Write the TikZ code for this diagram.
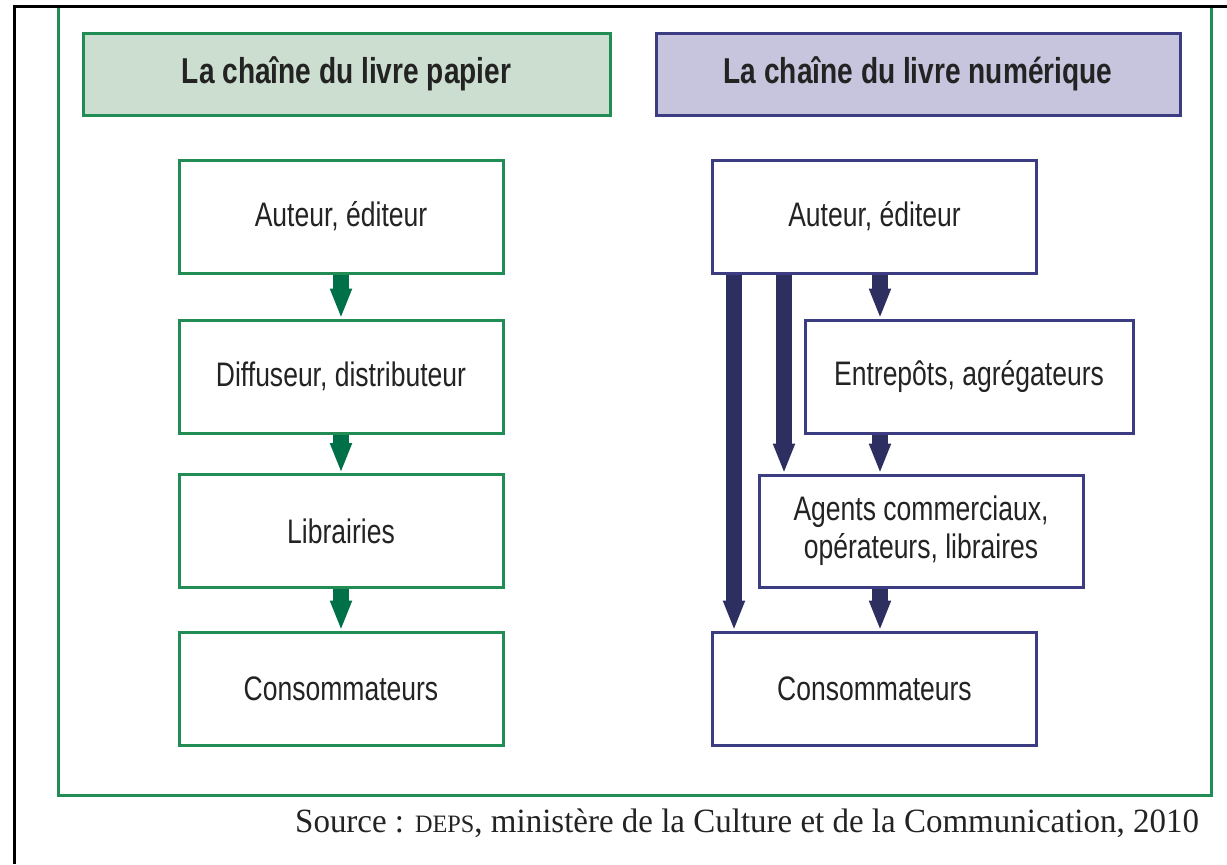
\documentclass[tikz,border=0pt]{standalone}
\usepackage{fontspec}
\setmainfont[FakeStretch=0.78]{Liberation Sans}
\newfontfamily\titlefont[FakeStretch=0.78]{Liberation Sans}
\newfontfamily\srcfont[FakeStretch=0.97]{Liberation Serif}
\usetikzlibrary{arrows.meta}

\definecolor{vert}{RGB}{34,140,85}
\definecolor{vertfond}{RGB}{204,222,208}
\definecolor{vertfleche}{RGB}{0,112,72}
\definecolor{bleu}{RGB}{60,60,130}
\definecolor{bleufond}{RGB}{199,196,221}
\definecolor{bleufleche}{RGB}{45,47,96}
\definecolor{texte}{RGB}{35,35,35}

\tikzset{
  pbox/.style={draw=vert, line width=1.5pt, fill=white, minimum width=162pt,
    minimum height=56.5pt, text=texte, font=\fontsize{17}{19}\selectfont, align=center},
  nbox/.style={pbox, draw=bleu},
  ptitle/.style={pbox, fill=vertfond, minimum width=263.5pt, minimum height=41pt,
    font=\titlefont\fontsize{18}{20}\selectfont\bfseries},
  ntitle/.style={ptitle, draw=bleu, fill=bleufond, minimum width=262pt},
  parrow/.style={vertfleche, line width=8pt, -{Triangle[width=10pt,length=15pt]}},
  narrow/.style={parrow, bleufleche},
}

\begin{document}
\begin{tikzpicture}[x=0.5pt, y=-0.5pt]
  \useasboundingbox (0,0) rectangle (1227,864);

  % cadres
  \draw[black, line width=1.5pt] (14,864) -- (14,6) -- (1227,6);
  \draw[vert, line width=1.5pt] (58,8) -- (58,795) -- (1211,795) -- (1211,8);

  % titres
  \node[ptitle] (ptitre) at (346.5,74) {La chaîne du livre papier};
  \node[ntitle] (ntitre) at (918,74) {La chaîne du livre numérique};

  % livre papier
  \node[pbox] (pauteur) at (341,216.5) {Auteur, éditeur};
  \node[pbox] (pdiff) at (341,376.5) {Diffuseur, distributeur};
  \node[pbox] (plib) at (341,531) {Librairies};
  \node[pbox] (pcons) at (341,688.5) {Consommateurs};

  \draw[parrow] (pauteur) -- (pdiff);
  \draw[parrow] (pdiff) -- (plib);
  \draw[parrow] (plib) -- (pcons);

  % livre numerique
  \node[nbox] (nauteur) at (874.5,216.5) {Auteur, éditeur};
  \node[nbox, minimum width=164pt] (nentre) at (969,376.5) {Entrepôts, agrégateurs};
  \node[nbox, minimum height=56pt] (nagents) at (921,531)
    {Agents commerciaux,\\opérateurs, libraires};
  \node[nbox] (ncons) at (874.5,688.5) {Consommateurs};

  \draw[narrow] ([xshift=11.5pt]nauteur.south west) coordinate (l1) -- (l1 |- ncons.north);
  \draw[narrow] ([xshift=36.5pt]nauteur.south west) coordinate (l2) -- (l2 |- nagents.north);
  \draw[narrow] ([xshift=2.75pt]nauteur.south) coordinate (c1) -- (c1 |- nentre.north);
  \draw[narrow] (c1 |- nentre.south) -- (c1 |- nagents.north);
  \draw[narrow] (c1 |- nagents.south) -- (c1 |- ncons.north);

  % source
  \node[anchor=base east, text=texte, font=\srcfont\fontsize{17}{19}\selectfont] (source) at (1206,832)
    {Source : {\fontsize{12.5}{14}\selectfont DEPS}, ministère de la Culture et de la Communication, 2010};
\end{tikzpicture}
\end{document}
